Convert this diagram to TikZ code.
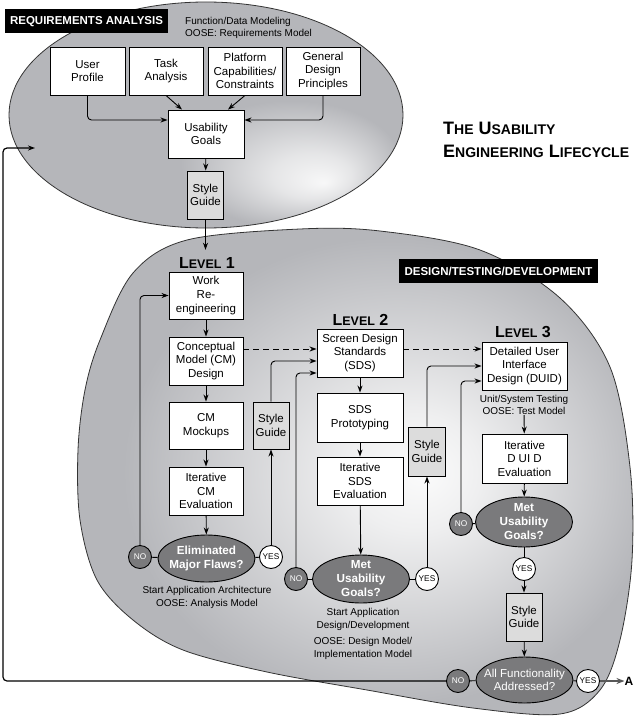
\documentclass[tikz,border=0pt]{standalone}
\usepackage{fontspec}
\setmainfont{Liberation Sans}
\usetikzlibrary{arrows.meta,shapes.geometric}

\definecolor{shellgray}{HTML}{B5B6BA}
\definecolor{decgray}{HTML}{7A7A7C}
\definecolor{guidegray}{HTML}{DCDCDC}

\newcommand\bxfont{\fontsize{11.5}{13.6}\selectfont}
\newcommand\ntfont{\fontsize{10}{12.4}\selectfont}
\newcommand\tgfont{\fontsize{11.5}{13}\selectfont\bfseries}
\newcommand\dcfont{\fontsize{11.7}{14}\selectfont\bfseries}
\newcommand\btfont{\fontsize{8.3}{9}\selectfont}
\newcommand\capsc[2]{{\fontsize{18}{23}\selectfont #1}{\fontsize{14}{23}\selectfont #2}}
\newcommand\levelhead[1]{{\fontsize{16}{18}\selectfont L}{\fontsize{12.5}{18}\selectfont EVEL}{\fontsize{16}{18}\selectfont\ #1}}

\pgfdeclareradialshading{reqshade}{\pgfpoint{15bp}{-15bp}}{color(0bp)=(white!90!shellgray); color(5bp)=(white!65!shellgray); color(14bp)=(shellgray); color(50bp)=(shellgray)}
\pgfdeclareradialshading{blobshade}{\pgfpoint{6bp}{0bp}}{color(0bp)=(white!95!shellgray); color(6bp)=(white!78!shellgray); color(24bp)=(shellgray); color(50bp)=(shellgray)}

\begin{document}
\begin{tikzpicture}[x=1pt,y=-1pt,
  box/.style={draw, fill=white, line width=0.9pt, minimum width=74pt, minimum height=48pt, inner sep=1pt, align=center, font=\bxfont},
  guide/.style={box, fill=guidegray, minimum width=36pt},
  decision/.style={ellipse, draw, line width=0.9pt, fill=decgray, text=white, font=\dcfont, align=center, inner xsep=-8pt, inner ysep=-2pt, minimum width=97pt, minimum height=48pt},
  nobtn/.style={circle, draw, line width=0.9pt, fill=decgray, text=white, font=\btfont, minimum size=23pt, inner sep=0pt},
  yesbtn/.style={nobtn, fill=white, text=black},
  tag/.style={fill=black, text=white, font=\tgfont, minimum height=24pt, inner sep=0pt},
  note/.style={font=\ntfont, align=center, inner sep=0pt},
  conn/.style={-{Stealth[length=7pt,width=5pt]}, line width=0.9pt, rounded corners=4pt},
  link/.style={line width=0.9pt}]
  \useasboundingbox (0,0) rectangle (634,717);

  % the two phases
  \shade[shading=blobshade, draw=black!80, line width=0.8pt] plot[smooth cycle, tension=0.55] coordinates {
    (100,340) (133,273) (187,240) (300,229) (380,231) (480,250) (560,298) (610,367)
    (630,467) (632,560) (620,640) (600,690) (560,714) (473,708) (367,690) (267,672)
    (183,650) (133,620) (97,580) (80,520) (78,450) (85,390)};
  \shade[shading=reqshade, draw=black!80, line width=0.8pt] (206,115) ellipse [x radius=197pt, y radius=113pt];

  % requirements analysis
  \node[tag, minimum width=163pt] (reqlabel) at (86.5,21.5) {REQUIREMENTS ANALYSIS};
  \node[note, anchor=west, align=left] (funcnote) at (185,28) {Function/Data Modeling\\OOSE: Requirements Model};
  \node[box, minimum width=75pt] (user) at (87.5,71) {User\\Profile};
  \node[box] (task) at (166,71) {Task\\Analysis};
  \node[box] (platform) at (245,71) {Platform\\Capabilities/\\Constraints};
  \node[box] (principles) at (323,71) {General\\Design\\Principles};
  \node[box, minimum width=76pt] (goals) at (206,134) {Usability\\Goals};
  \node[guide] (guidereq) at (205.5,195) {Style\\Guide};

  \draw[conn] (user.south) |- ([yshift=14pt]goals.west);
  \draw[conn] (task.south) -- ([xshift=-24pt]goals.north);
  \draw[conn] (platform.south) -- ([xshift=22pt]goals.north);
  \draw[conn] (principles.south) |- ([yshift=14pt]goals.east);
  \draw[conn] (goals) -- (guidereq);

  \node[anchor=north west, inner sep=0pt, align=left, font=\fontsize{18}{23}\selectfont\bfseries] (title) at (443,122)
    {\capsc{T}{HE} \capsc{U}{SABILITY}\\\capsc{E}{NGINEERING} \capsc{L}{IFECYCLE}};
  \node[tag, minimum width=199pt] (devlabel) at (498.5,271) {DESIGN/TESTING/DEVELOPMENT};

  % level 1
  \node[font=\bfseries, inner sep=0pt] (lvlone) at (207,262.5) {\levelhead{1}};
  \node[box, minimum height=47pt] (work) at (206,295.5) {Work\\Re-\\engineering};
  \node[box] (cm) at (206,361) {Conceptual\\Model (CM)\\Design};
  \node[box, minimum height=47pt] (mockups) at (206,425.5) {CM\\Mockups};
  \node[box] (cmeval) at (206,491) {Iterative\\CM\\Evaluation};
  \node[decision, minimum height=47pt] (flaws) at (206.5,558.5) {Eliminated\\Major Flaws?};
  \node[nobtn] (noone) at (140,557) {NO};
  \node[yesbtn] (yesone) at (271,557) {YES};
  \node[guide, minimum height=47pt] (guideone) at (271,425.5) {Style\\Guide};
  \node[note] (archnote) at (207,597.5) {Start Application Architecture\\OOSE: Analysis Model};

  \draw[conn] (guidereq) -- ([yshift=7pt]guidereq.south |- lvlone.north);
  \draw[conn] (work) -- (cm);
  \draw[conn] (cm) -- (mockups);
  \draw[conn] (mockups) -- (cmeval);
  \draw[conn] (cmeval) -- (flaws);
  \draw[link] (noone) -- (flaws);
  \draw[link] (flaws) -- (yesone);
  \draw[conn] (noone.north) |- (work.west);
  \draw[conn] (yesone) -- (guideone);

  % level 2
  \node[font=\bfseries, inner sep=0pt] (lvltwo) at (360.5,319.5) {\levelhead{2}};
  \node[box, minimum width=86pt] (sds) at (360,353) {Screen Design\\Standards\\(SDS)};
  \node[box, minimum width=86pt, minimum height=49pt] (proto) at (360,417.5) {SDS\\Prototyping};
  \node[box, minimum width=86pt] (sdseval) at (360,481) {Iterative\\SDS\\Evaluation};
  \node[decision] (mettwo) at (361,579) {Met\\Usability\\Goals?};
  \node[nobtn] (notwo) at (296,579) {NO};
  \node[yesbtn] (yestwo) at (427,579) {YES};
  \node[guide, minimum height=49pt, minimum width=37pt] (guidetwo) at (427,451.5) {Style\\Guide};
  \node[note] (devnote) at (363,634) {Start Application\\Design/Development\\[4pt]OOSE: Design Model/\\Implementation Model};

  \draw[conn] (guideone.north) |- ([yshift=-8pt]sds.west);
  \draw[conn, dashed, dash pattern=on 6pt off 4pt] ([yshift=12pt]cm.east) -- ([yshift=12pt]cm.east -| sds.west);
  \draw[conn] (notwo.north) |- ([yshift=-20pt]sds.west);
  \draw[conn] (sds) -- (proto);
  \draw[conn] (proto) -- (sdseval);
  \draw[conn] (sdseval) -- (mettwo);
  \draw[link] (notwo) -- (mettwo);
  \draw[link] (mettwo) -- (yestwo);
  \draw[conn] (yestwo) -- (guidetwo);

  % level 3
  \node[font=\bfseries, inner sep=0pt] (lvlthree) at (523,332) {\levelhead{3}};
  \node[box, minimum width=85pt] (duid) at (524.5,366) {Detailed User\\Interface\\Design (DUID)};
  \node[note] (testnote) at (524,405) {Unit/System Testing\\OOSE: Test Model};
  \node[box, minimum width=85pt, minimum height=49pt] (duideval) at (524.5,458.5) {Iterative\\D UI D\\Evaluation};
  \node[decision, minimum height=50pt] (metthree) at (524,522) {Met\\Usability\\Goals?};
  \node[nobtn] (nothree) at (461,524) {NO};
  \node[yesbtn] (yesthree) at (524,569) {YES};
  \node[guide] (guidethree) at (524,617) {Style\\Guide};
  \node[decision, minimum height=46pt, font=\fontsize{11.5}{13.6}\selectfont] (allfunc) at (524.5,680) {All Functionality\\Addressed?};
  \node[nobtn] (nofour) at (458,681) {NO};
  \node[yesbtn] (yesfour) at (588,681) {YES};
  \node[font=\fontsize{12}{14}\selectfont\bfseries, inner sep=0pt] (outA) at (629,681) {A};

  \draw[conn] (guidetwo.north) |- (duid.west);
  \draw[conn, dashed, dash pattern=on 6pt off 4pt] ([yshift=4pt]sds.east) -- ([yshift=4pt]sds.east -| duid.west);
  \draw[conn] (nothree.north) |- ([yshift=-15pt]duid.west);
  \draw[conn] (testnote) -- (duideval);
  \draw[conn] (duideval) -- (metthree);
  \draw[link] (nothree) -- (metthree);
  \draw[link] (metthree) -- (yesthree);
  \draw[conn] (yesthree) -- (guidethree);
  \draw[conn] (guidethree) -- (allfunc);
  \draw[link] (nofour) -- (allfunc);
  \draw[link] (allfunc) -- (yesfour);
  \draw[-{Stealth[length=8pt,width=6pt]}, line width=2.5pt, black!65] (yesfour) -- (outA);

  % back to requirements
  \coordinate (loopcorner) at (3,148);
  \coordinate (reentry) at (35,148);
  \draw[conn, line width=1.2pt] (nofour) -| (loopcorner) -- (reentry);
\end{tikzpicture}
\end{document}
